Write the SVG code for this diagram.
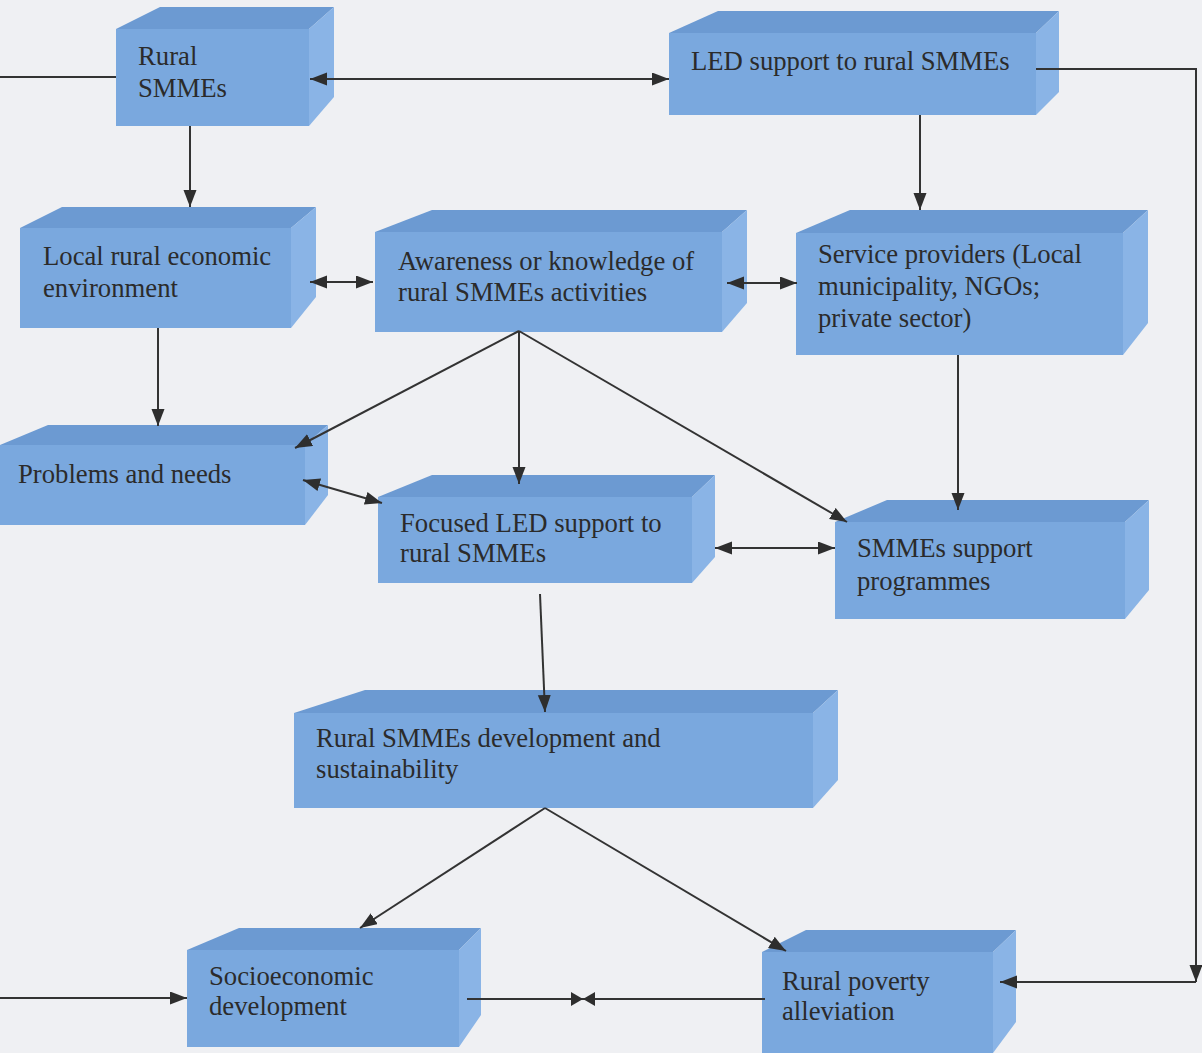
<svg xmlns="http://www.w3.org/2000/svg" width="1202" height="1053" viewBox="0 0 1202 1053">
<defs>
<style>
.front{fill:#7aa8de}
.top{fill:#6c9ad2}
.side{fill:#8ab4e6}
.lbl{font-family:"Liberation Serif","Times New Roman",serif;font-size:26.7px;fill:#2b2b2b}
.con{stroke:#333;stroke-width:2;fill:none}
</style>
<marker id="ah" markerUnits="userSpaceOnUse" markerWidth="18" markerHeight="14" refX="17" refY="6.5" orient="auto-start-reverse">
<path d="M0,0 L17,6.5 L0,13 z" fill="#2e2e2e"/>
</marker>
<marker id="bt" markerUnits="userSpaceOnUse" markerWidth="13" markerHeight="15" refX="12" refY="7" orient="auto">
<path d="M0,0 L12,7 L0,14 z" fill="#2e2e2e"/>
</marker>
</defs>
<rect x="0" y="0" width="1202" height="1053" fill="#eff0f3"/>

<g id="n-rural-smmes">
<rect class="front" x="116" y="29" width="193" height="97"/>
<polygon class="top" points="116,29 160,7 334,7 309,29"/>
<polygon class="side" points="309,29 334,7 334,97 309,126"/>
<text class="lbl" x="138" y="65">Rural</text>
<text class="lbl" x="138" y="97">SMMEs</text>
</g>

<g id="n-led-support">
<rect class="front" x="669" y="33" width="367" height="82"/>
<polygon class="top" points="669,33 718,11 1059,11 1036,33"/>
<polygon class="side" points="1036,33 1059,11 1059,92 1036,115"/>
<text class="lbl" x="691" y="70">LED support to rural SMMEs</text>
</g>

<g id="n-local-rural">
<rect class="front" x="20" y="228" width="271" height="100"/>
<polygon class="top" points="20,228 62,207 316,207 291,228"/>
<polygon class="side" points="291,228 316,207 316,297 291,328"/>
<text class="lbl" x="43" y="265">Local rural economic</text>
<text class="lbl" x="43" y="297">environment</text>
</g>

<g id="n-awareness">
<rect class="front" x="375" y="232" width="347" height="100"/>
<polygon class="top" points="375,232 432,210 747,210 722,232"/>
<polygon class="side" points="722,232 747,210 747,303 722,332"/>
<text class="lbl" x="398" y="270">Awareness or knowledge of</text>
<text class="lbl" x="398" y="301">rural SMMEs activities</text>
</g>

<g id="n-service-providers">
<rect class="front" x="796" y="233" width="327" height="122"/>
<polygon class="top" points="796,233 850,210 1148,210 1123,233"/>
<polygon class="side" points="1123,233 1148,210 1148,323 1123,355"/>
<text class="lbl" x="818" y="263">Service providers (Local</text>
<text class="lbl" x="818" y="295">municipality, NGOs;</text>
<text class="lbl" x="818" y="327">private sector)</text>
</g>

<g id="n-problems">
<rect class="front" x="0" y="445" width="305" height="80"/>
<polygon class="top" points="0,445 48,425 328,425 305,445"/>
<polygon class="side" points="305,445 328,425 328,495 305,525"/>
<text class="lbl" x="18" y="483">Problems and needs</text>
</g>

<g id="n-focused-led">
<rect class="front" x="378" y="497" width="314" height="86"/>
<polygon class="top" points="378,497 432,475 715,475 692,497"/>
<polygon class="side" points="692,497 715,475 715,557 692,583"/>
<text class="lbl" x="400" y="532">Focused LED support to</text>
<text class="lbl" x="400" y="562">rural SMMEs</text>
</g>

<g id="n-smmes-support">
<rect class="front" x="835" y="522" width="290" height="97"/>
<polygon class="top" points="835,522 887,500 1149,500 1125,522"/>
<polygon class="side" points="1125,522 1149,500 1149,590 1125,619"/>
<text class="lbl" x="857" y="557">SMMEs support</text>
<text class="lbl" x="857" y="590">programmes</text>
</g>

<g id="n-rural-dev">
<rect class="front" x="294" y="713" width="519" height="95"/>
<polygon class="top" points="294,713 365,690 838,690 813,713"/>
<polygon class="side" points="813,713 838,690 838,780 813,808"/>
<text class="lbl" x="316" y="747">Rural SMMEs development and</text>
<text class="lbl" x="316" y="778">sustainability</text>
</g>

<g id="n-socioeconomic">
<rect class="front" x="187" y="950" width="272" height="97"/>
<polygon class="top" points="187,950 239,928 481,928 459,950"/>
<polygon class="side" points="459,950 481,928 481,1015 459,1047"/>
<text class="lbl" x="209" y="985">Socioeconomic</text>
<text class="lbl" x="209" y="1015">development</text>
</g>

<g id="n-poverty">
<rect class="front" x="762" y="952" width="231" height="101"/>
<polygon class="top" points="762,952 806,930 1016,930 993,952"/>
<polygon class="side" points="993,952 1016,930 1016,1022 993,1053"/>
<text class="lbl" x="782" y="990">Rural poverty</text>
<text class="lbl" x="782" y="1020">alleviation</text>
</g>

<g id="connectors">
<line class="con" x1="0" y1="77" x2="116" y2="77"/>
<line class="con" x1="310" y1="79" x2="669" y2="79" marker-start="url(#ah)" marker-end="url(#ah)"/>
<line class="con" x1="190" y1="126" x2="190" y2="207" marker-end="url(#ah)"/>
<line class="con" x1="920" y1="115" x2="920" y2="210" marker-end="url(#ah)"/>
<polyline class="con" points="1036,69 1196,69 1196,982" marker-end="url(#ah)"/>
<line class="con" x1="1196" y1="982" x2="1000" y2="982" marker-end="url(#ah)"/>
<line class="con" x1="310" y1="282" x2="373" y2="282" marker-start="url(#ah)" marker-end="url(#ah)"/>
<line class="con" x1="727" y1="283" x2="797" y2="283" marker-start="url(#ah)" marker-end="url(#ah)"/>
<line class="con" x1="158" y1="328" x2="158" y2="426" marker-end="url(#ah)"/>
<line class="con" x1="519" y1="331" x2="295" y2="448" marker-end="url(#ah)"/>
<line class="con" x1="519" y1="331" x2="519" y2="484" marker-end="url(#ah)"/>
<line class="con" x1="519" y1="331" x2="847" y2="522" marker-end="url(#ah)"/>
<line class="con" x1="303" y1="480" x2="382" y2="503" marker-start="url(#ah)" marker-end="url(#ah)"/>
<line class="con" x1="958" y1="355" x2="958" y2="510" marker-end="url(#ah)"/>
<line class="con" x1="715" y1="548" x2="835" y2="548" marker-start="url(#ah)" marker-end="url(#ah)"/>
<line class="con" x1="540" y1="594" x2="545" y2="712" marker-end="url(#ah)"/>
<line class="con" x1="545" y1="808" x2="360" y2="928" marker-end="url(#ah)"/>
<line class="con" x1="545" y1="808" x2="786" y2="951" marker-end="url(#ah)"/>
<line class="con" x1="0" y1="998" x2="187" y2="998" marker-end="url(#ah)"/>
<line class="con" x1="467" y1="999" x2="583" y2="999" marker-end="url(#bt)"/>
<line class="con" x1="765" y1="999" x2="583" y2="999" marker-end="url(#bt)"/>
</g>
</svg>
